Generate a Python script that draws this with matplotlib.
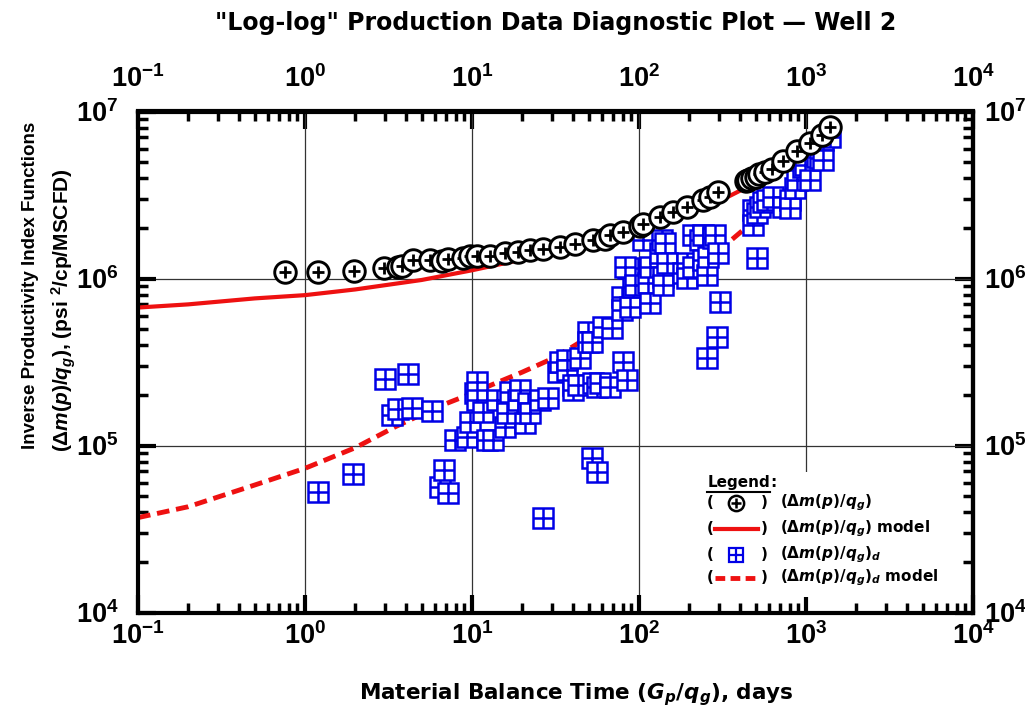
import numpy as np
import matplotlib
matplotlib.use("Agg")
import matplotlib.pyplot as plt
from matplotlib.ticker import FuncFormatter, NullFormatter, FixedLocator
from matplotlib.patches import Rectangle

# Liberation Sans for the "custom" math font set (tick labels, y label)
plt.rcParams["mathtext.fontset"] = "custom"
plt.rcParams["mathtext.rm"] = "Liberation Sans"
plt.rcParams["mathtext.it"] = "Liberation Sans:italic"
plt.rcParams["mathtext.bf"] = "Liberation Sans:bold"
plt.rcParams["mathtext.bfit"] = "Liberation Sans:italic:bold"

# (dm(p)/qg) data, days vs psi^2/cp/MSCFD
circ_x = [0.76, 1.20, 1.96, 2.97, 3.60, 3.81, 4.43, 5.61, 6.61, 7.18,
          8.83, 9.73, 10.7, 12.8, 15.8, 18.9, 22.2, 26.6, 33.7, 41.4,
          53.1, 62.6, 67.0, 80.2, 101, 106, 134, 160, 194, 242,
          266, 297, 440, 450, 475, 502, 520, 568, 626, 728,
          883, 1057, 1247, 1393]
circ_y = [1.09e6, 1.09e6, 1.11e6, 1.16e6, 1.17e6, 1.19e6, 1.29e6, 1.29e6, 1.27e6, 1.31e6,
          1.33e6, 1.36e6, 1.36e6, 1.36e6, 1.42e6, 1.44e6, 1.48e6, 1.50e6, 1.55e6, 1.61e6,
          1.70e6, 1.73e6, 1.82e6, 1.90e6, 2.06e6, 2.12e6, 2.33e6, 2.50e6, 2.68e6, 2.95e6,
          3.08e6, 3.30e6, 3.85e6, 3.89e6, 4.00e6, 4.06e6, 4.20e6, 4.35e6, 4.53e6, 5.06e6,
          5.81e6, 6.49e6, 7.24e6, 8.07e6]

# (dm(p)/qg)_d derivative data
sq_x = [1.20, 1.94, 3.01, 4.14, 3.32, 3.60, 4.37, 5.76, 6.43, 6.80,
        7.18, 7.91, 9.33, 9.73, 10.4, 10.7, 10.7, 11.6, 12.3, 13.4,
        14.1, 15.8, 16.2, 16.9, 18.9, 19.4, 20.8, 21.6, 22.2, 25.5,
        28.5, 26.6, 32.7, 33.7, 37.1, 37.1, 40.3, 40.3, 43.1, 44.3,
        49.5, 49.5, 52.3, 53.1, 56.1, 58.4, 60.9, 67.0, 68.9, 52.3,
        56.1, 79.1, 79.1, 80.2, 84.7, 85.9, 88.3, 92.1, 82.4, 94.6,
        106, 113, 116, 116, 134, 137, 139, 139, 143, 147,
        183, 194, 194, 210, 210, 232, 242, 242, 255, 259,
        277, 285, 297, 305, 293, 255, 482, 482, 509, 509,
        531, 553, 584, 634, 728, 802, 802, 859, 883, 959,
        986, 1057, 1164, 1213, 1265, 1265, 1393]
sq_y = [5.27e4, 6.75e4, 2.50e5, 2.68e5, 1.52e5, 1.66e5, 1.68e5, 1.61e5, 5.64e4, 7.13e4,
        5.20e4, 1.08e5, 1.12e5, 1.38e5, 2.06e5, 2.40e5, 1.87e5, 1.59e5, 1.08e5, 1.08e5,
        1.87e5, 1.29e5, 1.57e5, 2.09e5, 1.87e5, 2.15e5, 1.37e5, 1.80e5, 1.57e5, 1.87e5,
        1.92e5, 3.68e4, 2.75e5, 3.16e5, 3.25e5, 2.83e5, 2.30e5, 2.15e5, 2.30e5, 3.34e5,
        4.79e5, 4.17e5, 4.17e5, 2.37e5, 2.24e5, 2.37e5, 5.13e5, 2.24e5, 5.06e5, 8.41e4,
        6.93e4, 7.75e5, 6.47e5, 3.16e5, 2.47e5, 1.16e6, 6.75e5, 8.89e5, 1.17e6, 9.15e5,
        1.70e6, 9.40e5, 7.13e5, 1.17e6, 1.42e6, 1.70e6, 1.02e6, 9.15e5, 1.63e6, 1.24e6,
        1.08e6, 1.24e6, 1.01e6, 1.82e6, 1.17e6, 1.70e6, 1.82e6, 1.29e6, 1.05e6, 1.35e6,
        1.75e6, 1.82e6, 1.42e6, 7.23e5, 4.47e5, 3.34e5, 2.57e6, 2.09e6, 1.33e6, 2.47e6,
        2.68e6, 2.87e6, 2.95e6, 3.08e6, 2.68e6, 2.95e6, 2.64e6, 3.48e6, 3.89e6, 4.66e6,
        4.79e6, 3.89e6, 5.34e6, 5.27e6, 6.75e6, 5.13e6, 7.03e6]

# model curves
model_x = [0.1, 0.2, 0.5, 1, 2, 5, 10, 20, 50, 100, 200, 340, 450, 600, 1000, 1400]
model_y = [6.7e5, 7.0e5, 7.6e5, 7.95e5, 8.6e5, 9.8e5, 1.12e6, 1.3e6, 1.65e6, 2.0e6,
           2.55e6, 3.08e6, 3.55e6, 4.2e6, 5.8e6, 7.3e6]
dmodel_x = [0.1, 0.2, 0.5, 1, 2, 3.5, 6.4, 10, 13, 20, 29, 39, 60, 100, 200, 340,
            420, 600, 1000, 1400]
dmodel_y = [3.7e4, 4.3e4, 5.8e4, 7.3e4, 9.7e4, 1.3e5, 1.72e5, 2.05e5, 2.3e5, 2.75e5,
            3.25e5, 3.84e5, 5.0e5, 7.0e5, 1.15e6, 1.63e6, 1.95e6, 2.7e6, 4.2e6, 5.6e6]

x_decades = [1e-1, 1e0, 1e1, 1e2, 1e3, 1e4]
y_decades = [1e4, 1e5, 1e6, 1e7]

RED = "#ee1111"
BLUE = "#0000e6"

MATH_Q = r"(Δ$\mathbfit{m}$($\mathbfit{p}$)/$\mathbfit{q}_{\mathbfit{g}}$)"


def decade_label(v, pos):
    return r"$\mathbf{10^{%d}}$" % int(round(np.log10(v)))


def style_ticks(axis_obj, pad):
    axis_obj.tick_params(which="both", direction="in")
    axis_obj.tick_params(which="major", length=13, width=3, pad=pad, labelsize=19.5)
    axis_obj.tick_params(which="minor", length=7.5, width=2.5)


def set_decades(axis, ticks):
    axis.set_major_locator(FixedLocator(ticks))
    axis.set_major_formatter(FuncFormatter(decade_label))
    axis.set_minor_formatter(NullFormatter())


fig = plt.figure(figsize=(10.25, 7.15), dpi=100)
ax = fig.add_axes([138 / 1025, 1 - 612.5 / 715, 835 / 1025, 501 / 715])
ax.set_xscale("log")
ax.set_yscale("log")

ax.plot(model_x, model_y, color=RED, lw=3, zorder=2)
ax.plot(dmodel_x, dmodel_y, color=RED, lw=3.5, dashes=(2.6, 1.4), zorder=2)

# squares and circles are drawn one by one so later points cover earlier ones
for i, (x, y) in enumerate(zip(sq_x, sq_y)):
    z = 3 + i * 0.001
    ax.plot(x, y, marker="s", ms=14.5, mfc="white", mec=BLUE, mew=1.8, ls="none", zorder=z)
    ax.plot(x, y, marker="+", ms=14.5, mec=BLUE, mew=1.8, ls="none", zorder=z + 0.0005)

for i, (x, y) in enumerate(zip(circ_x, circ_y)):
    z = 5 + i * 0.001
    ax.plot(x, y, marker="o", ms=15.5, mfc="white", mec="black", mew=2.1, ls="none", zorder=z)
    ax.plot(x, y, marker="+", ms=8.5, mec="black", mew=2, ls="none", zorder=z + 0.0005)

ax.set_xlim(1e-1, 1e4)
ax.set_ylim(1e4, 1e7)
ax.grid(True, which="major", color="#333333", lw=0.9)
ax.set_axisbelow(True)

for s in ax.spines.values():
    s.set_linewidth(3)
style_ticks(ax, 7)
ax.tick_params(axis="y", which="major", pad=14)
ax.tick_params(top=False, right=False, which="both")
set_decades(ax.xaxis, x_decades)
set_decades(ax.yaxis, y_decades)

secx = ax.secondary_xaxis("top")
secx.spines["top"].set_linewidth(3)
style_ticks(secx, 13)
set_decades(secx.xaxis, x_decades)

secy = ax.secondary_yaxis("right")
secy.spines["right"].set_linewidth(3)
style_ticks(secy, 8)
set_decades(secy.yaxis, y_decades)

# legend block
ax.add_patch(Rectangle((0.67, 0.03), 0.295, 0.25, transform=ax.transAxes,
                       fc="white", ec="none", zorder=1))
lg = dict(transform=ax.transAxes, fontsize=11, fontweight="bold", va="center",
          zorder=10, math_fontfamily="dejavusans")
title = ax.text(0.682, 0.2585, "Legend", **lg)
rows = [0.2186, 0.1667, 0.1148, 0.0689]
labels = [MATH_Q, MATH_Q + " model", MATH_Q + r"$_{\mathbfit{d}}$",
          MATH_Q + r"$_{\mathbfit{d}}$ model"]
for yr, lab in zip(rows, labels):
    ax.text(0.681, yr, "(", **lg)
    ax.text(0.746, yr, ")", **lg)
    ax.text(0.769, yr, lab, **lg)

kw = dict(transform=ax.transAxes, ls="none", zorder=10)
ax.plot([0.716], [rows[0]], marker="o", ms=11, mfc="white", mec="black", mew=1.8, **kw)
ax.plot([0.716], [rows[0]], marker="+", ms=6.5, mec="black", mew=1.8, **kw)
ax.plot([0.691, 0.743], [rows[1]] * 2, color=RED, lw=3, transform=ax.transAxes, zorder=10)
ax.plot([0.716], [rows[2]], marker="s", ms=10, mfc="white", mec=BLUE, mew=1.6, **kw)
ax.plot([0.716], [rows[2]], marker="+", ms=10, mec=BLUE, mew=1.6, **kw)
ax.plot([0.691, 0.743], [rows[3]] * 2, color=RED, lw=3.5, dashes=(2.0, 1.1),
        transform=ax.transAxes, zorder=10)

fig.text(556 / 1025, 1 - 23 / 715, '"Log-log" Production Data Diagnostic Plot \u2014 Well 2',
         ha="center", va="center", fontsize=17, fontweight="bold")
fig.text(576 / 1025, 1 - 695 / 715,
         r"Material Balance Time ($\mathbfit{G}_{\mathbfit{p}}$/$\mathbfit{q}_{\mathbfit{g}}$), days",
         ha="center", va="center", fontsize=15.5, fontweight="bold",
         math_fontfamily="dejavusans")
fig.text(31 / 1025, 1 - 285 / 715, "Inverse Productivity Index Functions",
         rotation=90, ha="center", va="center", fontsize=13.5, fontweight="bold",
         family="Liberation Sans")
fig.text(64 / 1025, 1 - 310 / 715,
         r"(Δ$\mathbfit{m}$($\mathbfit{p}$)/$\mathbfit{q}_{\mathbfit{g}}$), (psi $^{\mathbf{2}}$/cp/MSCFD)",
         rotation=90, ha="center", va="center", fontsize=15, fontweight="bold",
         family="Liberation Sans")

# underline "Legend" and append the colon
fig.canvas.draw()
bb = title.get_window_extent().transformed(ax.transAxes.inverted())
ax.text(bb.x1, 0.2585, ":", **lg)
ax.plot([bb.x0, bb.x1], [bb.y0 - 0.004] * 2, color="black", lw=1.5,
        transform=ax.transAxes, zorder=10)

fig.savefig("out.png", dpi=100)
